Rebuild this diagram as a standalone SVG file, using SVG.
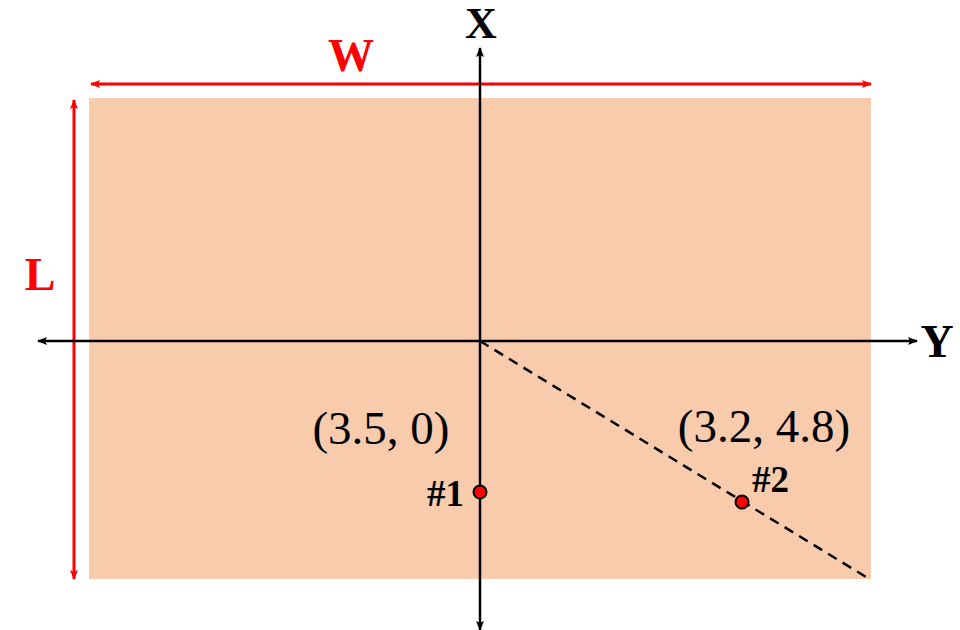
<svg xmlns="http://www.w3.org/2000/svg" width="960" height="630" viewBox="0 0 960 630">
<defs>
<marker id="ab" markerWidth="10" markerHeight="8" refX="9" refY="4" orient="auto-start-reverse" markerUnits="userSpaceOnUse"><path d="M0,0 L10,4 L0,8 L2,4 z" fill="#000"/></marker>
<marker id="ar" markerWidth="10" markerHeight="8" refX="9" refY="4" orient="auto-start-reverse" markerUnits="userSpaceOnUse"><path d="M0,0 L10,4 L0,8 L2,4 z" fill="#f00"/></marker>
<style>
.b{font-weight:bold}
.red{fill:#f00}
.ax{stroke:#000;stroke-width:2.5;fill:none}
.dim{stroke:#f00;stroke-width:3;fill:none}
.pt{fill:#f00;stroke:#000;stroke-width:2}
</style>
</defs>
<rect id="plate" x="89" y="98" width="782" height="481" fill="#F8CBAD"/>
<g id="connectors">
<line class="dim" x1="91" y1="84" x2="871" y2="84" marker-start="url(#ar)" marker-end="url(#ar)"/>
<line class="dim" x1="74" y1="100" x2="74" y2="579" marker-start="url(#ar)" marker-end="url(#ar)"/>
<line class="ax" x1="38" y1="341" x2="917" y2="341" marker-start="url(#ab)" marker-end="url(#ab)"/>
<line class="ax" x1="480" y1="48" x2="480" y2="630" marker-start="url(#ab)" marker-end="url(#ab)"/>
<line x1="480" y1="341" x2="871" y2="580" stroke="#000" stroke-width="2.5" stroke-dasharray="10,7"/>
</g>
<g font-family="'Liberation Serif', 'DejaVu Serif', serif">
<g id="labels">
<text class="b" x="481" y="38" font-size="44" text-anchor="middle">X</text>
<text class="b red" x="351" y="71" font-size="46" text-anchor="middle">W</text>
<text class="b red" x="40" y="290" font-size="46" text-anchor="middle">L</text>
<text class="b" x="937" y="357" font-size="46" text-anchor="middle">Y</text>
</g>
<g id="p1">
<circle class="pt" cx="480" cy="492" r="6.5"/>
<text x="381" y="444" font-size="47" text-anchor="middle">(3.5, 0)</text>
<text class="b" x="464" y="506" font-size="37" text-anchor="end">#1</text>
</g>
<g id="p2">
<circle class="pt" cx="742" cy="502" r="6.5"/>
<text x="764" y="442" font-size="47" text-anchor="middle">(3.2, 4.8)</text>
<text class="b" x="752" y="492" font-size="37">#2</text>
</g>
</g>
</svg>
